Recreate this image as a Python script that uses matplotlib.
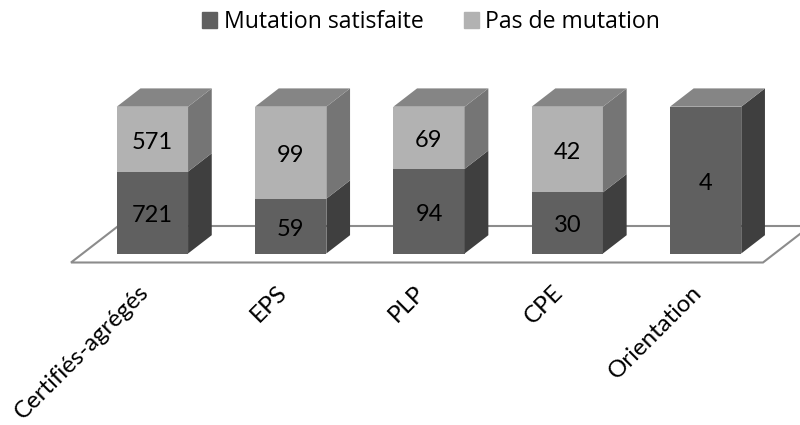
import matplotlib
matplotlib.use("Agg")
import matplotlib.pyplot as plt
from matplotlib.patches import Polygon

categories = ["Certifiés-agrégés", "EPS", "PLP", "CPE", "Orientation"]
satisfied = [721, 59, 94, 30, 4]
no_mutation = [571, 99, 69, 42, 0]
series_names = ["Mutation satisfaite", "Pas de mutation"]

plt.rcParams["font.family"] = ["Open Sans", "DejaVu Sans"]

W, H = 800, 425
# pixel layout of the fake 3d chart
x0_px, step_px = 152.4, 138.3
y0_px, full_px = 253.5, 146.8
width = 71.3 / step_px
dx = 23.7 / step_px
dy = 18.3 / full_px
label_drop = 3 / full_px

fig = plt.figure(figsize=(W / 100, H / 100), dpi=100)
ax = fig.add_axes([0, 0, 1, 1])
ax.set_xlim(-x0_px / step_px, (W - x0_px) / step_px)
ax.set_ylim((y0_px - H) / full_px, y0_px / full_px)
ax.axis("off")

colors = {"low": ("#606060", "#3f3f3f"), "high": ("#b2b2b2", "#757575")}
top_color = "#858585"

# floor
fy = -9.0 / full_px
floor_l = (71 - x0_px) / step_px
floor_r = (763 - x0_px) / step_px
back = 36.5 / full_px
shift = back * (dx / dy)
ax.add_patch(Polygon([(floor_l, fy), (floor_r, fy), (floor_r + shift, fy + back), (floor_l + shift, fy + back)],
                     closed=True, facecolor="white", edgecolor="#8c8c8c", linewidth=1.5, zorder=1))


def draw_seg(x, y1, y2, front, side):
    right = x + width / 2
    ax.bar(x, y2 - y1, width=width, bottom=y1, color=front, linewidth=0, zorder=3)
    ax.add_patch(Polygon([(right, y1), (right + dx, y1 + dy), (right + dx, y2 + dy), (right, y2)],
                         closed=True, facecolor=side, edgecolor="none", zorder=3))


for i, cat in enumerate(categories):
    total = satisfied[i] + no_mutation[i]
    share = satisfied[i] / total
    draw_seg(i, 0, share, *colors["low"])
    ax.text(i, share / 2 - label_drop, str(satisfied[i]), ha="center", va="center", fontsize=17, family="Lato", color="black", zorder=5)
    if no_mutation[i] > 0:
        draw_seg(i, share, 1, *colors["high"])
        ax.text(i, (1 + share) / 2 - label_drop, str(no_mutation[i]), ha="center", va="center", fontsize=17, family="Lato", color="black", zorder=5)
    left = i - width / 2
    right = i + width / 2
    ax.add_patch(Polygon([(left, 1), (right, 1), (right + dx, 1 + dy), (left + dx, 1 + dy)],
                         closed=True, facecolor=top_color, edgecolor="none", zorder=3))
    ax.text(i - 0.105, -0.19, cat, rotation=45, rotation_mode="anchor", ha="right", va="top", fontsize=17.3, family="Lato", color="black")

# legend
handles = [plt.Rectangle((0, 0), 1, 1, color=colors["low"][0]), plt.Rectangle((0, 0), 1, 1, color=colors["high"][0])]
fig.legend(handles, series_names, loc="upper center", bbox_to_anchor=(0.539, 1.025), ncol=2, frameon=False,
           fontsize=16.6, handlelength=0.64, handleheight=0.64, handletextpad=0.3, columnspacing=1.75)

fig.savefig("out.png", dpi=100)
